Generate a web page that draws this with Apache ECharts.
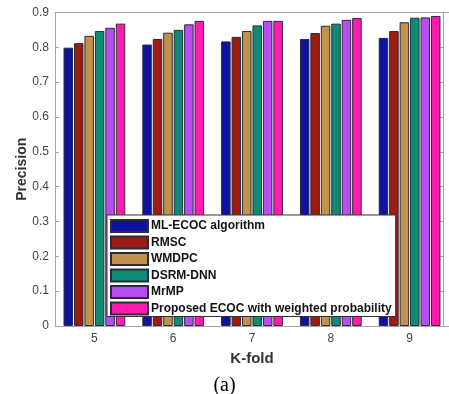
<!DOCTYPE html>
<html>
<head>
<meta charset="utf-8">
<script src="https://cdn.jsdelivr.net/npm/echarts@6/dist/echarts.min.js"></script>
<style>html,body{margin:0;padding:0;background:#fff;}#c{width:449px;height:394px;}</style>
</head>
<body>
<div id="c"></div>
<script>
const categories = ['5', '6', '7', '8', '9'];
const seriesNames = ['ML-ECOC algorithm', 'RMSC', 'WMDPC', 'DSRM-DNN', 'MrMP', 'Proposed ECOC with weighted probability'];
const mlEcoc   = [0.799, 0.808, 0.817, 0.824, 0.827];
const rmsc     = [0.812, 0.824, 0.830, 0.841, 0.847];
const wmdpc    = [0.833, 0.842, 0.847, 0.862, 0.872];
const dsrmDnn  = [0.847, 0.850, 0.863, 0.868, 0.885];
const mrmp     = [0.856, 0.866, 0.876, 0.879, 0.886];
const proposed = [0.868, 0.876, 0.876, 0.884, 0.890];
const yTicks = [0, 0.1, 0.2, 0.3, 0.4, 0.5, 0.6, 0.7, 0.8, 0.9];
const colors = ['#0f12a0', '#9c1c12', '#c0924a', '#0f8b73', '#b64df5', '#ff1bad'];
const seriesValues = [mlEcoc, rmsc, wmdpc, dsrmDnn, mrmp, proposed];

const font = 'Arial, "Liberation Sans", Helvetica, sans-serif';
const axisGray = '#a6a6a6';
const chart = echarts.init(document.getElementById('c'), null, {renderer: 'canvas'});
chart.setOption({
  animation: false,
  backgroundColor: '#fff',
  grid: {left: 55, top: 12.5, bottom: 68, right: -4.5, containLabel: false},
  legend: {
    data: seriesNames,
    orient: 'vertical',
    left: 107, top: 215,
    itemWidth: 37, itemHeight: 12, itemGap: 2.5,
    padding: [4, 4, 1, 3],
    backgroundColor: '#fff',
    borderColor: '#333',
    borderWidth: 1,
    icon: 'rect',
    textStyle: {fontFamily: font, fontWeight: 'bold', fontSize: 12, color: '#111', padding: [0, 0, 0, -2]}
  },
  xAxis: [{
    type: 'category', data: categories, position: 'bottom',
    name: 'K-fold', nameLocation: 'middle', nameGap: 25,
    nameTextStyle: {fontFamily: font, fontWeight: 'bold', fontSize: 15, color: '#333'},
    axisLine: {onZero: false, lineStyle: {color: axisGray, width: 1}},
    axisTick: {inside: true, alignWithLabel: true, length: 4, lineStyle: {color: axisGray}},
    axisLabel: {fontFamily: font, fontSize: 12, color: '#444', margin: 7},
    splitLine: {show: false}
  }, {
    type: 'category', data: categories, position: 'top',
    axisLine: {onZero: false, lineStyle: {color: axisGray, width: 1}},
    axisTick: {inside: true, alignWithLabel: true, length: 4, lineStyle: {color: axisGray}},
    axisLabel: {show: false}
  }],
  yAxis: [{
    type: 'value', min: 0, max: 0.9, interval: 0.1, position: 'left',
    name: 'Precision', nameLocation: 'middle', nameGap: 26, nameMoveOverlap: false,
    nameTextStyle: {fontFamily: font, fontWeight: 'bold', fontSize: 14, color: '#333'},
    axisLine: {show: true, onZero: false, lineStyle: {color: axisGray, width: 1}},
    axisTick: {show: true, inside: true, length: 4, lineStyle: {color: axisGray}},
    axisLabel: {fontFamily: font, fontSize: 12, color: '#444', margin: 6,
      formatter: v => { const t = yTicks.find(x => Math.abs(x - v) < 1e-9); return t === 0 ? '0' : (t !== undefined ? t.toFixed(1) : ''); }},
    splitLine: {show: false}
  }, {
    type: 'value', min: 0, max: 0.9, interval: 0.1, position: 'right', offset: -5.5,
    axisLine: {show: true, onZero: false, lineStyle: {color: axisGray, width: 1}},
    axisTick: {show: true, inside: true, length: 4, lineStyle: {color: axisGray}},
    axisLabel: {show: false},
    splitLine: {show: false}
  }],
  series: seriesNames.map((n, i) => ({
    name: n, type: 'bar', xAxisIndex: 0, yAxisIndex: 0,
    data: seriesValues[i],
    barWidth: 9.5, barGap: '10%',
    itemStyle: {color: colors[i], borderColor: '#2b2b3a', borderWidth: 1}
  })),
  graphic: [{
    type: 'text', left: 'center', top: 376,
    style: {text: '(a)', font: '20px "Liberation Serif", "Times New Roman", serif', fill: '#000'}
  }]
});
</script>
</body>
</html>
